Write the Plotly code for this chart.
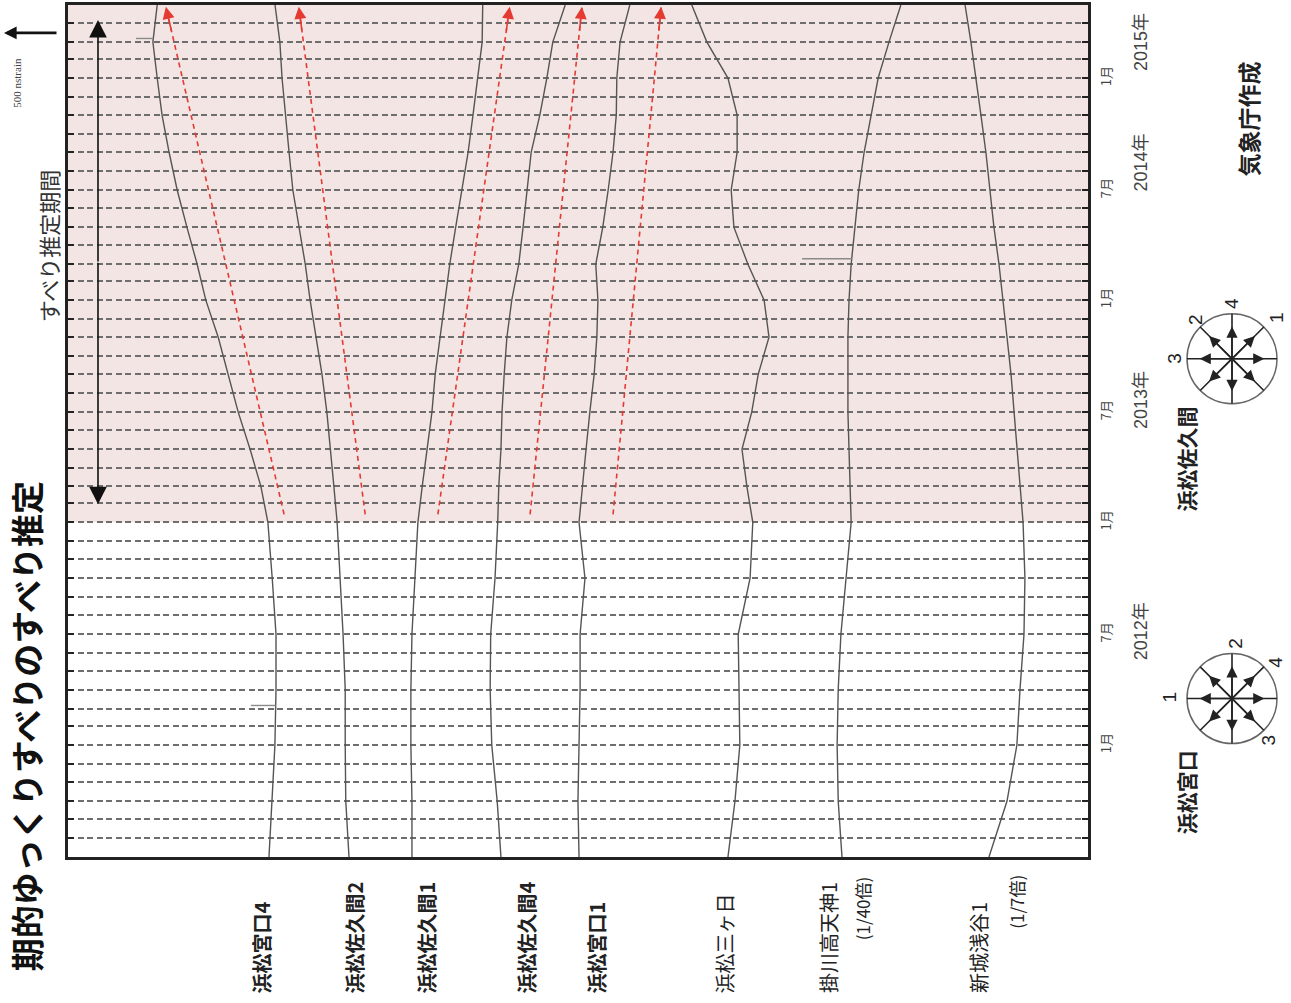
import numpy as np
import pandas as pd
import plotly.graph_objects as go

# ---------------- data ----------------
dates = ["2011-07-01", "2011-10-01", "2012-01-01", "2012-04-01", "2012-07-01", "2012-10-01",
         "2013-01-01", "2013-03-01", "2013-05-01", "2013-07-01", "2013-09-01", "2013-11-01",
         "2014-01-01", "2014-03-01", "2014-05-01", "2014-07-01", "2014-09-01", "2014-11-01",
         "2015-01-01", "2015-03-01", "2015-05-01"]

stations = ["浜松宮口4", "浜松佐久間2", "浜松佐久間1", "浜松佐久間4", "浜松宮口1",
            "浜松三ヶ日", "掛川高天神1", "新城浅谷1"]
display_divisor = [1, 1, 1, 1, 1, 1, 40, 7]   # (1/40倍), (1/7倍)

# strain change from the first date (nstrain, + = toward the 500 nstrain arrow)
strain_miyaguchi4 = [0, -30, -55, -65, -65, -30, 10, 75, 175, 285, 380, 470, 585, 665, 760, 850, 925, 990, 1035, 1075, 1035]
strain_sakuma2 = [0, 30, 35, 35, 55, 85, 110, 140, 175, 205, 250, 305, 360, 405, 465, 520, 555, 585, 620, 640, 685]
strain_sakuma1 = [0, 0, 10, 10, 0, -30, -55, -95, -140, -185, -215, -260, -305, -350, -405, -465, -520, -565, -610, -650, -655]
strain_sakuma4 = [0, 35, 85, 100, 95, 55, 30, 20, 0, -10, -30, -55, -100, -165, -205, -240, -280, -360, -425, -480, -595]
strain_miyaguchi1 = [0, 10, 0, -10, -10, -55, 0, -30, -65, -100, -140, -165, -175, -155, -220, -270, -315, -345, -350, -380, -470]
strain_mikkabi = [0, -65, -110, -100, -95, -205, -230, -175, -130, -220, -280, -380, -335, -185, -55, -30, -85, -85, 0, 195, 335]
strain_takatenjin1 = [0, 1400, 1800, 1400, 400, -1400, -3400, -3000, -2600, -2200, -2200, -2200, -2600, -3400, -4800, -6200, -8200, -10800, -13400, -17400, -21800]
strain_asaya1 = [0, -1170, -1810, -2010, -2270, -2330, -2210, -2010, -1810, -1620, -1430, -1170, -910, -650, -320, -60, 200, 520, 840, 1170, 1550]

series = [strain_miyaguchi4, strain_sakuma2, strain_sakuma1, strain_sakuma4,
          strain_miyaguchi1, strain_mikkabi, strain_takatenjin1, strain_asaya1]

# calculated strain change from the estimated slip (red arrows), stations 0..4
calc_start_date = "2013-01-14"
calc_end_date = "2015-04-28"
calc_start = [-140, -150, -240, -270, -315]
calc_end = [955, 465, -905, -750, -760]

# event marks (station index, date, length in displayed nstrain)
event_station = [0, 0, 6]
event_date = ["2012-03-06", "2015-03-07", "2014-03-10"]
event_len = [230, 160, 460]

estimation_period = ["2013-01-01", "2015-05-01"]

month_ticks = ["2012-01-01", "2012-07-01", "2013-01-01", "2013-07-01",
               "2014-01-01", "2014-07-01", "2015-01-01"]
month_text = ["1月", "7月", "1月", "7月", "1月", "7月", "1月"]
year_text = ["2012年", "2013年", "2014年", "2015年"]
year_pos = ["2012-07-06", "2013-07-21", "2014-08-15", "2015-03-01"]

# ---------------- layout constants ----------------
W, H = 1291, 1003
L, R, T, B = 68, 1088, 2, 857
X_SPAN = 9445                       # nstrain across the plot width
trace_offsets = [7584, 6843, 6260, 5436, 4713, 3334, 2278, 917]

def px(x):
    return (x - L) / (R - L)

def py(y):
    return (B - y) / (B - T)

FONT = "Liberation Sans, Noto Sans CJK JP, Arial, sans-serif"
JFONT = "Noto Sans CJK JP, Liberation Sans, sans-serif"
LINE = "#555555"
RED = "#e53a32"

fig = go.Figure()
shapes = []
annotations = []

t_num = pd.to_datetime(pd.Series(dates)).astype("int64").to_numpy()

for i, (name, vals) in enumerate(zip(stations, series)):
    xs = trace_offsets[i] + np.array(vals, float) / display_divisor[i]
    fig.add_trace(go.Scatter(x=xs, y=dates, mode="lines", name=name,
                             line=dict(color=LINE, width=1.4), showlegend=False,
                             hoverinfo="skip"))

# event marks
for s, d, ln in zip(event_station, event_date, event_len):
    vals = trace_offsets[s] + np.array(series[s], float) / display_divisor[s]
    v = float(np.interp(pd.Timestamp(d).value, t_num, vals))
    fig.add_trace(go.Scatter(x=[v, v + ln], y=[d, d], mode="lines",
                             line=dict(color="#8a8a8a", width=1.4), showlegend=False,
                             hoverinfo="skip"))

# red calculated arrows
ts, te = pd.Timestamp(calc_start_date), pd.Timestamp(calc_end_date)
for i in range(len(calc_start)):
    x0 = trace_offsets[i] + calc_start[i]
    x1 = trace_offsets[i] + calc_end[i]
    fig.add_trace(go.Scatter(x=[x0, x1], y=[calc_start_date, calc_end_date], mode="lines",
                             line=dict(color=RED, width=1.6, dash="5px,4px"),
                             showlegend=False, hoverinfo="skip"))
    f = 0.05
    ax = x1 + f * (x0 - x1)
    ay = te + f * (ts - te)
    annotations.append(dict(x=x1, y=calc_end_date, ax=ax, ay=str(ay), axref="x", ayref="y",
                            xref="x", yref="y", text="", showarrow=True, arrowhead=2,
                            arrowsize=1.5, arrowwidth=1.6, arrowcolor=RED))

# shaded estimation period
shapes.append(dict(type="rect", xref="paper", yref="y", x0=0, x1=1,
                   y0=estimation_period[0], y1=estimation_period[1],
                   fillcolor="#f4e5e5", line=dict(width=0), layer="below"))


def text_at(x, y, txt, size, family=JFONT, color="#222", angle=-90,
            xanchor="center", yanchor="middle", yref="paper"):
    annotations.append(dict(xref="paper", yref=yref, x=px(x),
                            y=(py(y) if yref == "paper" else y), text=txt,
                            textangle=angle, showarrow=False, xanchor=xanchor,
                            yanchor=yanchor, font=dict(family=family, size=size, color=color)))


# year labels
for txt, d in zip(year_text, year_pos):
    text_at(1141, d, txt, 18, family=FONT, color="#444", yref="y")

# station labels
label_specs = [
    (262, "<b>浜松宮口4</b>"),
    (355, "<b>浜松佐久間2</b>"),
    (427, "<b>浜松佐久間1</b>"),
    (527, "<b>浜松佐久間4</b>"),
    (597, "<b>浜松宮口1</b>"),
    (725, "浜松三ヶ日"),
    (828, "掛川高天神1"),
    (978, "新城浅谷1"),
]
for x, txt in label_specs:
    text_at(x, 996, txt, 20, yanchor="bottom")
text_at(862, 943, "(1/40倍)", 17, yanchor="bottom")
text_at(1017, 931, "(1/7倍)", 17, yanchor="bottom")

# title (left, rotated)
text_at(26, 478, "<b>期的ゆっくりすべりのすべり推定</b>", 33, color="#111", yanchor="top")
# estimation period label and double arrow
text_at(48, 244, "すべり推定期間", 22, color="#333")
mid = (17 + 503) / 2
for yend in (17, 503):
    annotations.append(dict(xref="paper", yref="paper", x=px(98), y=py(yend),
                            axref="pixel", ayref="pixel", ax=0, ay=mid - yend,
                            text="", showarrow=True, arrowhead=2, arrowsize=2.2,
                            arrowwidth=1.6, arrowcolor="#111"))
# 500 nstrain scale
scale_px = 500 / X_SPAN * (R - L)
annotations.append(dict(xref="paper", yref="paper", x=px(4), y=py(30),
                        axref="pixel", ayref="pixel", ax=scale_px, ay=0,
                        text="", showarrow=True, arrowhead=2, arrowsize=0.9,
                        arrowwidth=2.8, arrowcolor="#111"))
text_at(17, 80, "500 nstrain", 11, family="Liberation Serif, serif", color="#444")
# credit
text_at(1248, 117, "<b>気象庁作成</b>", 23)


# compasses
def compass(cx, cy, r, name, name_y, nums):
    shapes.append(dict(type="circle", xref="paper", yref="paper",
                       xsizemode="pixel", ysizemode="pixel",
                       xanchor=px(cx), yanchor=py(cy), x0=-r, x1=r, y0=-r, y1=r,
                       line=dict(color="#666", width=1.5)))
    for k in range(8):
        a = np.deg2rad(45 * k)
        dx, dy = r * np.cos(a), -r * np.sin(a)
        shapes.append(dict(type="line", xref="paper", yref="paper",
                           x0=px(cx), y0=py(cy), x1=px(cx + dx), y1=py(cy + dy),
                           line=dict(color="#222", width=1.6)))
        f = 0.72
        annotations.append(dict(xref="paper", yref="paper", x=px(cx + f * dx),
                                y=py(cy + f * dy), axref="pixel", ayref="pixel",
                                ax=-f * dx, ay=-f * dy, text="", showarrow=True,
                                arrowhead=2, arrowsize=1.4, arrowwidth=1.6,
                                arrowcolor="#222"))
    for (nx, ny, t) in nums:
        text_at(nx, ny, t, 19, family=FONT)
    text_at(1186, name_y, "<b>" + name + "</b>", 21)


compass(1232, 357, 45, "浜松佐久間", 458,
        [(1232, 302, "4"), (1277, 316, "1"), (1196, 318, "2"), (1175, 357, "3")])
compass(1232, 698, 45, "浜松宮口", 792,
        [(1236, 643, "2"), (1276, 662, "4"), (1170, 697, "1"), (1268, 740, "3")])

fig.update_layout(
    width=W, height=H, autosize=False,
    margin=dict(l=L, r=W - R, t=T, b=H - B, pad=0),
    paper_bgcolor="white", plot_bgcolor="white",
    showlegend=False, font=dict(family=FONT),
)
fig.layout.shapes = shapes
fig.layout.annotations = annotations

fig.update_xaxes(range=[X_SPAN, 0], showgrid=False, zeroline=False, showticklabels=False,
                 ticks="", showline=True, mirror=True, linecolor="#222", linewidth=2.5,
                 fixedrange=True)
fig.update_yaxes(type="date", range=["2011-07-01", "2015-05-01"], side="right",
                 tickvals=month_ticks, ticktext=month_text, tickangle=-90,
                 tickfont=dict(family=JFONT, size=13, color="#444"),
                 ticks="inside", ticklen=6, tickcolor="#222", tickwidth=1.5,
                 ticklabelstandoff=5,
                 showline=True, mirror="ticks", linecolor="#222", linewidth=2.5,
                 showgrid=True, gridcolor="#6e6e6e", gridwidth=1.5, griddash="6px,3.5px",
                 minor=dict(dtick="M1", showgrid=True, gridcolor="#6e6e6e", gridwidth=1.5,
                            griddash="6px,3.5px", ticks="inside", ticklen=6,
                            tickcolor="#222", tickwidth=1.5),
                 zeroline=False, fixedrange=True)

fig.write_html("out.html", config={"displayModeBar": False},
               post_script="document.body.style.margin='0';")
